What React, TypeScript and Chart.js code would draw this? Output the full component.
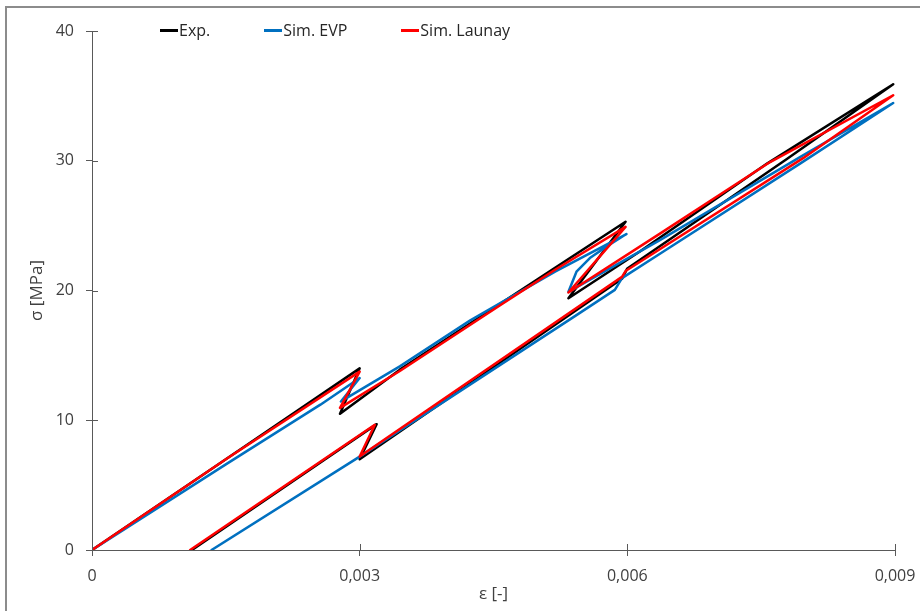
import React, { useEffect, useRef } from "react";
import { Chart, registerables } from "chart.js";

Chart.register(...registerables);

// ---- data (strain ε [-], stress σ [MPa]) ----
const expStrain = [0, 0.0015, 0.003, 0.00278, 0.00345, 0.00457, 0.00519, 0.00598, 0.00534, 0.00614, 0.00757, 0.00898, 0.00778, 0.006, 0.00594, 0.003, 0.00319, 0.00112];
const expStress = [0, 7.0, 14.0, 10.5, 13.9, 18.95, 21.75, 25.3, 19.4, 23.0, 29.8, 35.9, 30.1, 21.7, 20.9, 7.0, 9.7, 0];

const evpStrain = [0, 0.0015, 0.00256, 0.003, 0.00279, 0.00345, 0.00424, 0.00519, 0.00599, 0.00577, 0.00558, 0.00543, 0.00534, 0.00637, 0.00794, 0.00898, 0.00794, 0.00637, 0.00594, 0.00586, 0.00543, 0.003, 0.00134];
const evpStress = [0, 6.6, 11.2, 13.25, 11.45, 14.15, 17.7, 21.45, 24.35, 23.4, 22.5, 21.45, 19.9, 23.9, 30.3, 34.45, 29.8, 22.85, 20.95, 20.05, 18.1, 7.2, 0];

const launayStrain = [0, 0.0015, 0.003, 0.00278, 0.00345, 0.00457, 0.00519, 0.00598, 0.00534, 0.00637, 0.0076, 0.00898, 0.00797, 0.00598, 0.00594, 0.003, 0.00317, 0.0011];
const launayStress = [0, 7.0, 13.75, 10.95, 13.8, 18.85, 21.6, 24.9, 19.85, 24.4, 29.9, 35.05, 30.2, 21.5, 21.05, 7.2, 9.65, 0];

const seriesNames = ["Exp.", "Sim. EVP", "Sim. Launay"];
const xTickValues = [0, 0.003, 0.006, 0.009];
const yTickValues = [0, 10, 20, 30, 40];
const xTitle = "ε [-]";
const yTitle = "σ [MPa]";

const COLORS = ["#000000", "#0070C0", "#FF0000"];
const AXIS = "#595959";
const TEXT = "#404040";
const FONT = "'Open Sans', 'Noto Sans', sans-serif";
const FSIZE = 16;
const TSIZE = 17;

const toPoints = (xs: number[], ys: number[]) => xs.map((x, i) => ({ x, y: ys[i] }));

const fmtX = (v: number) => (Math.abs(v) < 1e-12 ? "0" : v.toFixed(3).replace(".", ","));

const innerTicks = {
  id: "innerTicks",
  afterDraw(chart: any) {
    const { ctx, chartArea, scales } = chart;
    const x = scales.x;
    const y = scales.y;
    ctx.save();
    ctx.strokeStyle = AXIS;
    ctx.lineWidth = 1;
    ctx.beginPath();
    for (const t of x.ticks) {
      const px = Math.round(x.getPixelForValue(t.value)) + 0.5;
      ctx.moveTo(px, chartArea.bottom);
      ctx.lineTo(px, chartArea.bottom - 6);
    }
    for (const t of y.ticks) {
      const py = Math.round(y.getPixelForValue(t.value)) + 0.5;
      ctx.moveTo(chartArea.left, py);
      ctx.lineTo(chartArea.left + 6, py);
    }
    ctx.stroke();
    ctx.restore();
  },
};

export default function App() {
  const canvasRef = useRef<HTMLCanvasElement | null>(null);

  useEffect(() => {
    const canvas = canvasRef.current;
    if (!canvas) return;
    const datasetBase = {
      showLine: true,
      pointRadius: 0,
      pointHoverRadius: 0,
      borderWidth: 2.5,
      tension: 0,
      fill: false,
      borderJoinStyle: "round" as const,
      borderCapStyle: "round" as const,
    };
    const chart = new Chart(canvas, {
      type: "scatter",
      data: {
        datasets: [
          { ...datasetBase, label: seriesNames[0], data: toPoints(expStrain, expStress), borderColor: COLORS[0], backgroundColor: COLORS[0], order: 2 },
          { ...datasetBase, label: seriesNames[1], data: toPoints(evpStrain, evpStress), borderColor: COLORS[1], backgroundColor: COLORS[1], order: 1 },
          { ...datasetBase, label: seriesNames[2], data: toPoints(launayStrain, launayStress), borderColor: COLORS[2], backgroundColor: COLORS[2], order: 0 },
        ],
      },
      options: {
        responsive: false,
        animation: false,
        devicePixelRatio: 1,
        layout: { padding: { left: 0, right: 25, top: 31, bottom: 0 } },
        plugins: { legend: { display: false }, tooltip: { enabled: false } },
        scales: {
          x: {
            type: "linear",
            min: 0,
            max: 0.009,
            afterFit: (s: any) => {
              s.height = 61;
              s.paddingLeft = 0;
              s.paddingRight = 0;
            },
            afterBuildTicks: (s: any) => {
              s.ticks = xTickValues.map((v) => ({ value: v }));
            },
            grid: { display: true, drawOnChartArea: false, drawTicks: true, tickLength: 6, color: AXIS, lineWidth: 1 },
            border: { display: true, color: AXIS, width: 1 },
            ticks: {
              color: TEXT,
              font: { family: FONT, size: FSIZE },
              padding: 11,
              maxRotation: 0,
              autoSkip: false,
              callback: (v: any) => fmtX(Number(v)),
            },
            title: {
              display: true,
              text: xTitle,
              color: TEXT,
              font: { family: FONT, size: TSIZE },
              padding: { top: 0, bottom: 7 },
            },
          },
          y: {
            type: "linear",
            min: 0,
            max: 40,
            afterFit: (s: any) => {
              s.width = 92;
              s.paddingTop = 0;
              s.paddingBottom = 0;
            },
            afterBuildTicks: (s: any) => {
              s.ticks = yTickValues.map((v) => ({ value: v }));
            },
            grid: { display: true, drawOnChartArea: false, drawTicks: true, tickLength: 6, color: AXIS, lineWidth: 1 },
            border: { display: true, color: AXIS, width: 1 },
            ticks: {
              color: TEXT,
              font: { family: FONT, size: FSIZE },
              padding: 12,
              autoSkip: false,
              callback: (v: any) => String(v),
            },
            title: {
              display: true,
              text: yTitle,
              color: TEXT,
              font: { family: FONT, size: TSIZE },
              padding: { top: 27, bottom: 0 },
            },
          },
        },
      },
      plugins: [innerTicks],
    });
    return () => chart.destroy();
  }, []);

  return (
    <div style={{ position: "fixed", left: 0, top: 0, width: 920, height: 611, background: "#fff", overflow: "hidden" }}>
      <div
        style={{
          position: "absolute",
          left: 5,
          top: 6,
          width: 2000,
          height: 2000,
          borderLeft: "2px solid #8c8c8c",
          borderTop: "2px solid #8c8c8c",
        }}
      />
      <canvas ref={canvasRef} width={920} height={611} style={{ position: "absolute", left: 0, top: 0, display: "block" }} />
      <div
        style={{
          position: "absolute",
          left: 160,
          top: 19,
          height: 22,
          display: "flex",
          alignItems: "center",
          gap: 54,
          fontFamily: FONT,
          fontSize: FSIZE,
          color: "#262626",
          whiteSpace: "nowrap",
        }}
      >
        {seriesNames.map((name, i) => (
          <div key={name} style={{ display: "flex", alignItems: "center" }}>
            <span style={{ display: "inline-block", width: 18, height: 3, background: COLORS[i], marginRight: 1 }} />
            <span>{name}</span>
          </div>
        ))}
      </div>
    </div>
  );
}
